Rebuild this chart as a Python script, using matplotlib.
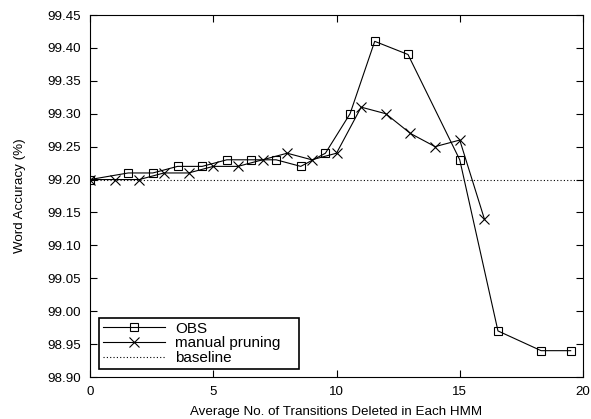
import matplotlib
matplotlib.use("Agg")
import matplotlib.pyplot as plt

plt.rcParams['font.family'] = ['Liberation Sans', 'DejaVu Sans']
plt.rcParams['font.size'] = 9.6

obs_x = [0, 1.55, 2.55, 3.55, 4.55, 5.55, 6.55, 7.55, 8.55, 9.55, 10.55, 11.55, 12.9, 15.0, 16.55, 18.3, 19.5]
obs_y = [99.20, 99.21, 99.21, 99.22, 99.22, 99.23, 99.23, 99.23, 99.22, 99.24, 99.30, 99.41, 99.39, 99.23, 98.97, 98.94, 98.94]

man_x = [0, 1, 2, 3, 4, 5, 6, 7, 8, 9, 10, 11, 12, 13, 14, 15, 16]
man_y = [99.20, 99.20, 99.20, 99.21, 99.21, 99.22, 99.22, 99.23, 99.24, 99.23, 99.24, 99.31, 99.30, 99.27, 99.25, 99.26, 99.14]

baseline = 99.20

fig = plt.figure(figsize=(5.91, 4.19), dpi=100)
ax = fig.add_axes([90 / 591, 1 - 377 / 419, 493 / 591, 362 / 419])

ax.plot(obs_x, obs_y, color='black', lw=0.8, marker='s', ms=6, mfc='none', mec='black', mew=0.8, label='OBS')
ax.plot(man_x, man_y, color='black', lw=0.8, marker='x', ms=7, mec='black', mew=0.8, label='manual pruning')
ax.axhline(baseline, color='black', lw=0.8, ls=(0, (1, 2)), label='baseline')

ax.set_xlim(0, 20)
ax.set_ylim(98.90, 99.45)
ax.set_xticks([0, 5, 10, 15, 20])
ax.set_yticks([98.90 + 0.05 * i for i in range(12)])
ax.set_yticklabels([f'{98.90 + 0.05 * i:.2f}' for i in range(12)])
ax.tick_params(direction='in', top=True, right=True, length=5, width=0.8, pad=6.5)
for s in ax.spines.values():
    s.set_linewidth(0.8)

ax.set_xlabel('Average No. of Transitions Deleted in Each HMM', labelpad=6)
ax.set_ylabel('Word Accuracy (%)', labelpad=15)

leg = ax.legend(loc='lower left', bbox_to_anchor=(99 / 591, 1 - 369 / 419, 200 / 591, 46 / 419),
                bbox_transform=fig.transFigure, mode='expand', fancybox=False, framealpha=1,
                edgecolor='black', handlelength=4.1, handletextpad=0.65, borderpad=0.25,
                labelspacing=0.05, borderaxespad=0, fontsize=11)
leg.get_frame().set_linewidth(1.2)

fig.savefig('out.png', dpi=100)
